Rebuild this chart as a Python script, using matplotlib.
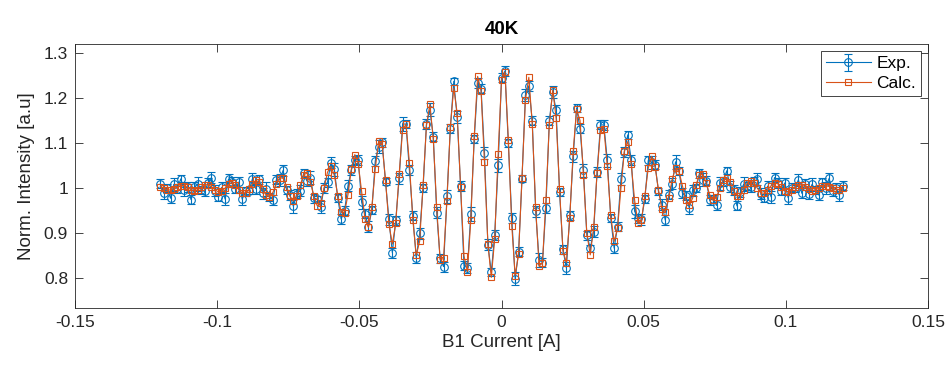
import numpy as np
import matplotlib
matplotlib.use("Agg")
import matplotlib.pyplot as plt

# B1 current sweep (A)
X_START, X_STOP, N_POINTS = -0.12, 0.12, 201

# Calculated normalized intensity
calc = [
    1.003, 1.000, 0.996, 0.995, 0.998, 1.002, 1.005, 1.005, 1.001, 0.996,
    0.993, 0.996, 1.001, 1.007, 1.007, 1.003, 0.996, 0.991, 0.992, 1.000,
    1.008, 1.011, 1.006, 0.996, 0.988, 0.988, 0.997, 1.009, 1.017, 1.012,
    0.998, 0.984, 0.980, 0.990, 1.009, 1.023, 1.021, 1.003, 0.981, 0.971,
    0.981, 1.006, 1.029, 1.033, 1.013, 0.981, 0.960, 0.967, 0.999, 1.035,
    1.048, 1.028, 0.983, 0.946, 0.945, 0.985, 1.042, 1.074, 1.054, 0.993,
    0.930, 0.912, 0.958, 1.043, 1.105, 1.097, 1.017, 0.919, 0.875, 0.921,
    1.031, 1.128, 1.142, 1.056, 0.929, 0.850, 0.881, 1.006, 1.139, 1.186,
    1.108, 0.957, 0.840, 0.843, 0.971, 1.136, 1.222, 1.166, 1.003, 0.849,
    0.814, 0.929, 1.115, 1.248, 1.216, 1.057, 0.876, 0.801, 0.887, 1.075,
    1.240, 1.258, 1.107, 0.916, 0.805, 0.853, 1.023, 1.195, 1.246, 1.142,
    0.958, 0.826, 0.834, 0.972, 1.140, 1.218, 1.155, 0.998, 0.860, 0.834,
    0.933, 1.082, 1.175, 1.150, 1.029, 0.899, 0.851, 0.912, 1.034, 1.128,
    1.132, 1.048, 0.939, 0.881, 0.910, 1.000, 1.082, 1.103, 1.053, 0.973,
    0.921, 0.928, 0.983, 1.044, 1.070, 1.047, 0.995, 0.952, 0.947, 0.978,
    1.019, 1.044, 1.037, 1.005, 0.973, 0.961, 0.977, 1.007, 1.029, 1.030,
    1.010, 0.985, 0.972, 0.979, 1.000, 1.018, 1.023, 1.012, 0.994, 0.982,
    0.983, 0.996, 1.010, 1.016, 1.011, 0.999, 0.989, 0.988, 0.995, 1.005,
    1.011, 1.009, 1.001, 0.994, 0.991, 0.995, 1.002, 1.007, 1.007, 1.002,
    0.997, 0.994, 0.995, 1.000, 1.004, 1.005, 1.003, 0.999, 0.996, 0.996,
    0.999,
]

# Measured normalized intensity
exp_vals = [
    1.009, 0.988, 0.999, 0.977, 1.008, 0.998, 1.020, 0.996, 1.002, 0.974,
    1.001, 1.009, 0.995, 0.992, 1.011, 1.023, 0.994, 0.980, 1.001, 0.975,
    1.020, 1.013, 0.998, 1.013, 0.975, 0.993, 0.994, 1.020, 0.998, 1.019,
    0.988, 0.998, 0.980, 0.974, 1.018, 1.018, 1.039, 0.996, 0.984, 0.959,
    0.987, 0.994, 1.032, 1.015, 1.023, 0.977, 0.975, 0.958, 1.000, 1.013,
    1.056, 1.041, 0.977, 0.931, 0.949, 1.005, 1.040, 1.063, 1.063, 0.968,
    0.942, 0.914, 0.950, 1.060, 1.092, 1.102, 1.014, 0.930, 0.856, 0.928,
    1.021, 1.142, 1.142, 1.040, 0.938, 0.845, 0.899, 0.999, 1.142, 1.174,
    1.114, 0.945, 0.843, 0.825, 0.981, 1.132, 1.237, 1.157, 1.004, 0.827,
    0.822, 0.942, 1.109, 1.233, 1.220, 1.077, 0.874, 0.812, 0.896, 1.050,
    1.245, 1.260, 1.099, 0.933, 0.798, 0.858, 1.020, 1.206, 1.227, 1.149,
    0.948, 0.840, 0.834, 0.956, 1.149, 1.213, 1.173, 0.991, 0.863, 0.822,
    0.939, 1.070, 1.178, 1.132, 1.039, 0.895, 0.866, 0.903, 1.035, 1.140,
    1.140, 1.061, 0.933, 0.866, 0.914, 1.020, 1.080, 1.118, 1.062, 0.948,
    0.933, 0.930, 0.975, 1.061, 1.057, 1.052, 0.992, 0.963, 0.928, 0.985,
    1.009, 1.058, 1.037, 0.989, 0.982, 0.956, 0.995, 1.000, 1.032, 1.018,
    1.016, 0.973, 0.975, 0.961, 1.010, 1.014, 1.038, 1.003, 0.995, 0.960,
    0.991, 1.009, 1.004, 1.001, 1.015, 1.019, 0.987, 0.977, 1.004, 0.980,
    1.023, 1.011, 0.993, 1.011, 0.978, 1.000, 0.999, 1.018, 0.988, 1.009,
    0.987, 1.008, 0.995, 0.984, 1.013, 1.000, 1.021, 0.992, 0.999, 0.984,
    1.005,
]

# Measurement uncertainty (half-length of the error bars)
exp_err = [
    0.010, 0.012, 0.009, 0.011, 0.014, 0.010, 0.008, 0.013, 0.011, 0.010,
    0.012, 0.015, 0.009, 0.011, 0.010, 0.013, 0.012, 0.009, 0.011, 0.014,
    0.010, 0.012, 0.009, 0.011, 0.014, 0.010, 0.008, 0.013, 0.011, 0.010,
    0.012, 0.015, 0.009, 0.011, 0.010, 0.013, 0.012, 0.009, 0.011, 0.014,
    0.010, 0.012, 0.009, 0.011, 0.014, 0.010, 0.008, 0.013, 0.011, 0.010,
    0.012, 0.015, 0.009, 0.011, 0.010, 0.013, 0.012, 0.009, 0.011, 0.014,
    0.010, 0.012, 0.009, 0.011, 0.014, 0.010, 0.008, 0.013, 0.011, 0.010,
    0.012, 0.015, 0.009, 0.011, 0.010, 0.013, 0.012, 0.009, 0.011, 0.014,
    0.010, 0.012, 0.009, 0.011, 0.014, 0.010, 0.008, 0.013, 0.011, 0.010,
    0.012, 0.015, 0.009, 0.011, 0.010, 0.013, 0.012, 0.009, 0.011, 0.014,
    0.010, 0.012, 0.009, 0.011, 0.014, 0.010, 0.008, 0.013, 0.011, 0.010,
    0.012, 0.015, 0.009, 0.011, 0.010, 0.013, 0.012, 0.009, 0.011, 0.014,
    0.010, 0.012, 0.009, 0.011, 0.014, 0.010, 0.008, 0.013, 0.011, 0.010,
    0.012, 0.015, 0.009, 0.011, 0.010, 0.013, 0.012, 0.009, 0.011, 0.014,
    0.010, 0.012, 0.009, 0.011, 0.014, 0.010, 0.008, 0.013, 0.011, 0.010,
    0.012, 0.015, 0.009, 0.011, 0.010, 0.013, 0.012, 0.009, 0.011, 0.014,
    0.010, 0.012, 0.009, 0.011, 0.014, 0.010, 0.008, 0.013, 0.011, 0.010,
    0.012, 0.015, 0.009, 0.011, 0.010, 0.013, 0.012, 0.009, 0.011, 0.014,
    0.010, 0.012, 0.009, 0.011, 0.014, 0.010, 0.008, 0.013, 0.011, 0.010,
    0.012, 0.015, 0.009, 0.011, 0.010, 0.013, 0.012, 0.009, 0.011, 0.014,
    0.010,
]

x_ticks = [-0.15, -0.1, -0.05, 0, 0.05, 0.1, 0.15]
x_ticklabels = ["-0.15", "-0.1", "-0.05", "0", "0.05", "0.1", "0.15"]
y_ticks = [0.8, 0.9, 1.0, 1.1, 1.2, 1.3]
y_ticklabels = ["0.8", "0.9", "1", "1.1", "1.2", "1.3"]

BLUE = "#0072BD"
ORANGE = "#D95319"
DARK = "#262626"

plt.rcParams["font.family"] = ["Liberation Sans", "DejaVu Sans"]

current = np.linspace(X_START, X_STOP, N_POINTS)

fig = plt.figure(figsize=(9.47, 3.76), dpi=100)
ax = fig.add_axes([0.0792, 0.181, 0.9008, 0.702])

h_exp = ax.errorbar(current, exp_vals, yerr=exp_err, color=BLUE, marker="o",
                    markersize=5.5, markerfacecolor="none",
                    markeredgewidth=0.8, linewidth=0.8, elinewidth=0.8,
                    capsize=3, capthick=0.8, label="Exp.", zorder=2)
h_calc, = ax.plot(current, calc, color=ORANGE, marker="s", markersize=4.5,
                  markerfacecolor="none", markeredgewidth=0.8, linewidth=0.8,
                  label="Calc.", zorder=3)

ax.set_xlim(-0.15, 0.15)
ax.set_ylim(0.733, 1.32)
ax.set_xticks(x_ticks)
ax.set_xticklabels(x_ticklabels)
ax.set_yticks(y_ticks)
ax.set_yticklabels(y_ticklabels)

ax.tick_params(direction="in", top=True, right=True, length=6, width=0.6,
               colors=DARK, labelsize=12.5, pad=5)
for spine in ax.spines.values():
    spine.set_color(DARK)
    spine.set_linewidth(0.6)

ax.set_xlabel("B1 Current [A]", fontsize=13.5, color=DARK, labelpad=3)
ax.set_ylabel("Norm. Intensity [a.u]", fontsize=13.5, color=DARK, labelpad=6)
ax.set_title("40K", fontsize=13.5, fontweight="bold", color="black", pad=7)

leg = ax.legend(handles=[h_exp, h_calc], labels=["Exp.", "Calc."],
                loc="upper right", fontsize=12.5, fancybox=False,
                framealpha=1, edgecolor=DARK, borderaxespad=0.4,
                handlelength=2.6, handletextpad=0.3, borderpad=0.3,
                labelspacing=0.25)
leg.get_frame().set_linewidth(0.6)

fig.savefig("out.png", dpi=100)
